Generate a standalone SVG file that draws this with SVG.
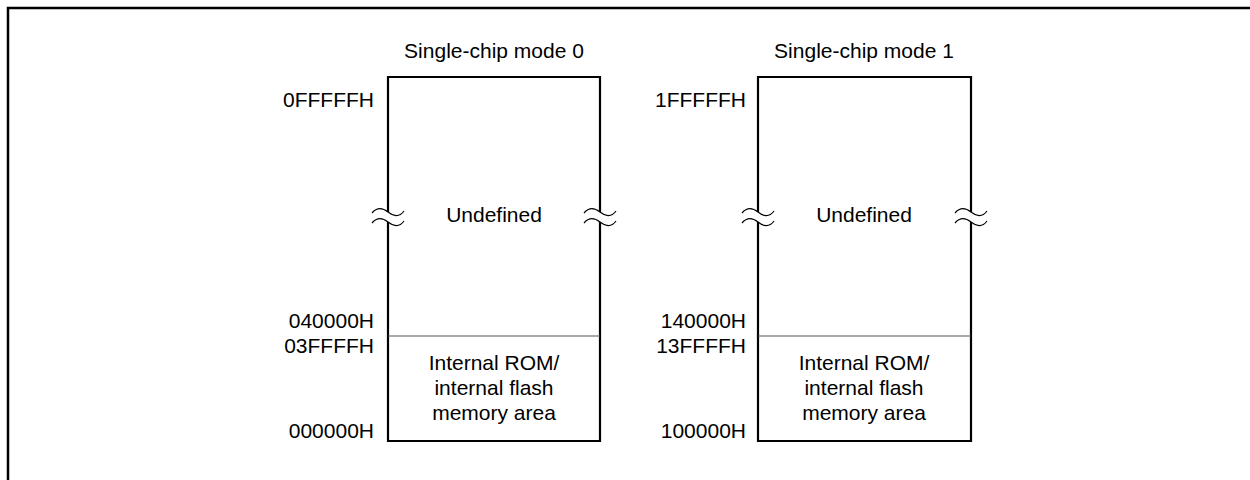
<svg xmlns="http://www.w3.org/2000/svg" width="1250" height="480" viewBox="0 0 1250 480">
<style>
text{font-family:"Liberation Sans",Arial,sans-serif;font-size:21px;fill:#000}
.c{text-anchor:middle}
.r{text-anchor:end}
.box{fill:none;stroke:#000;stroke-width:2.2}
.div{stroke:#555;stroke-width:1.2}
.wave{fill:none;stroke:#000;stroke-width:1.2}
</style>
<defs>
<g id="brk">
<path class="wave" d="M-16,0 C-11,-6 -5,-5 0,-1 S11,5 16,-2"/>
<path class="wave" d="M-16,10 C-11,4 -5,5 0,9 S11,15 16,8"/>
</g>
</defs>
<rect width="1250" height="480" fill="#fff"/>
<path d="M8,490 V8 H1260" fill="none" stroke="#000" stroke-width="2.5"/>
<g id="map0">
<text class="c" x="494" y="58">Single-chip mode 0</text>
<path class="box" d="M388,212 V77 H600 V212 M388,222 V441 H600 V222"/>
<line class="div" x1="388" y1="336" x2="600" y2="336"/>
<use href="#brk" x="388" y="213"/>
<use href="#brk" x="600" y="213"/>
<text class="c" x="494" y="222">Undefined</text>
<text class="c" x="494" y="370">Internal ROM/</text>
<text class="c" x="494" y="395">internal flash</text>
<text class="c" x="494" y="420">memory area</text>
<text class="r" x="374" y="107">0FFFFFH</text>
<text class="r" x="374" y="328">040000H</text>
<text class="r" x="374" y="353">03FFFFH</text>
<text class="r" x="374" y="438">000000H</text>
</g>
<g id="map1">
<text class="c" x="864" y="58">Single-chip mode 1</text>
<path class="box" d="M758,212 V77 H971 V212 M758,222 V441 H971 V222"/>
<line class="div" x1="758" y1="336" x2="971" y2="336"/>
<use href="#brk" x="758" y="213"/>
<use href="#brk" x="971" y="213"/>
<text class="c" x="864" y="222">Undefined</text>
<text class="c" x="864" y="370">Internal ROM/</text>
<text class="c" x="864" y="395">internal flash</text>
<text class="c" x="864" y="420">memory area</text>
<text class="r" x="746" y="107">1FFFFFH</text>
<text class="r" x="746" y="328">140000H</text>
<text class="r" x="746" y="353">13FFFFH</text>
<text class="r" x="746" y="438">100000H</text>
</g>
<g id="connectors"/>
</svg>
